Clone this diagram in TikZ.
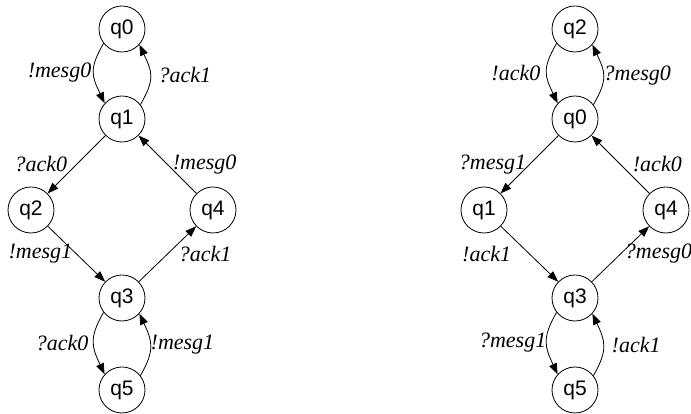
\documentclass[tikz,border=0pt]{standalone}
\usepackage{fontspec}
\setmainfont{Liberation Serif}
\newfontfamily\statefont{Liberation Sans}
\usetikzlibrary{arrows.meta}
\begin{document}
\begin{tikzpicture}[x=1pt, y=1pt,
    state/.style={circle, draw, line width=0.8pt, minimum size=46pt, inner sep=0pt,
      font=\statefont\fontsize{21}{24}\selectfont},
    trans/.style={-{Triangle[length=11pt, width=8pt]}, line width=0.8pt},
    lbl/.style={font=\itshape\fontsize{22}{26}\selectfont, inner sep=0pt}]
    \useasboundingbox (0,0) rectangle (691,414);
    % sender
    \node[state] (s0) at (122, 385) {q0};
    \node[state] (s1) at (122, 295) {q1};
    \node[state] (s2) at (31, 204) {q2};
    \node[state] (s4) at (213, 204) {q4};
    \node[state] (s3) at (122, 116) {q3};
    \node[state] (s5) at (122, 24) {q5};
    \draw[trans] (s0.218) .. controls +(240:30) and +(115:30) .. node[lbl, left=2pt] {!mesg0} (s1.138);
    \draw[trans] (s1.38) .. controls +(60:30) and +(-65:30) .. node[lbl, right=8pt] {?ack1} (s0.-42);
    \draw[trans] (s1) -- node[lbl, left=9pt] {?ack0} (s2);
    \draw[trans] (s4) -- node[lbl, right=5pt] {!mesg0} (s1);
    \draw[trans] (s2) -- node[lbl, left=4pt] {!mesg1} (s3);
    \draw[trans] (s3) -- node[lbl, right=11pt] {?ack1} (s4);
    \draw[trans] (s3.218) .. controls +(240:30) and +(115:30) .. node[lbl, left=5pt] {?ack0} (s5.138);
    \draw[trans] (s5.38) .. controls +(60:30) and +(-65:30) .. node[lbl, right=0pt] {!mesg1} (s3.-42);
    % receiver
    \node[state] (r2) at (575, 385) {q2};
    \node[state] (r0) at (575, 295) {q0};
    \node[state] (r1) at (484, 204) {q1};
    \node[state] (r4) at (666, 204) {q4};
    \node[state] (r3) at (575, 116) {q3};
    \node[state] (r5) at (575, 24) {q5};
    \draw[trans] (r2.218) .. controls +(240:30) and +(115:30) .. node[lbl, left=6pt] {!ack0} (r0.138);
    \draw[trans] (r0.38) .. controls +(60:30) and +(-65:30) .. node[lbl, right=0pt] {?mesg0} (r2.-42);
    \draw[trans] (r0) -- node[lbl, left=3pt] {?mesg1} (r1);
    \draw[trans] (r4) -- node[lbl, right=12pt] {!ack0} (r0);
    \draw[trans] (r1) -- node[lbl, left=18pt] {!ack1} (r3);
    \draw[trans] (r3) -- node[lbl, right=4pt] {?mesg0} (r4);
    \draw[trans] (r3.218) .. controls +(240:30) and +(115:30) .. node[lbl, left=0pt] {?mesg1} (r5.138);
    \draw[trans] (r5.38) .. controls +(60:30) and +(-65:30) .. node[lbl, right=8pt] {!ack1} (r3.-42);
\end{tikzpicture}
\end{document}
